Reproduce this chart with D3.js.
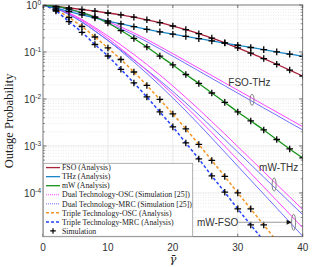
<!DOCTYPE html>
<html><head><meta charset="utf-8">
<script src="https://cdn.jsdelivr.net/npm/d3@7"></script>
<style>body{margin:0;background:#fff}svg{display:block}</style>
</head><body>
<svg id="c" width="334" height="267"></svg>
<script>
// ---- data ----
const gammaDb = [0,2,4,6,8,10,12,14,16,18,20,22,24,26,28,30,32,34,36,38,40];
const fsoAnalysis = [1,0.933,0.867,0.802,0.738,0.676,0.614,0.550,0.484,0.420,0.357,0.2985,0.245,0.197,0.157,0.1227,0.0948,0.0724,0.0548,0.0412,0.0308];
const thzAnalysis = [1,0.855,0.728,0.619,0.530,0.456,0.395,0.345,0.303,0.2685,0.239,0.214,0.192,0.1726,0.155,0.139,0.1247,0.112,0.1005,0.0902,0.081];
const mwAnalysis  = [1,0.93,0.82,0.69,0.555,0.414,0.286,0.194,0.128,0.082,0.0529,0.0332,0.0214,0.0134,0.00844,0.00529,0.0034,0.00219,0.00137,0.000863,0.000556];
const dualOscFsoThz = [1,0.929,0.822,0.6925,0.569,0.4455,0.340,0.2537,0.1845,0.1309,0.0920,0.0643,0.0450,0.0315,0.0220,0.01539,0.01076,0.00753,0.00527,0.00368,0.002575];
const dualMrcFsoThz = [1,0.9156,0.798,0.663,0.5368,0.414,0.3115,0.2299,0.1656,0.1164,0.0814,0.0566,0.0394,0.0274,0.0191,0.01329,0.00925,0.00643,0.0045,0.00313,0.00219];
const dualOscMwThz = [1,0.863,0.6757,0.4913,0.3322,0.2190,0.1409,0.0885,0.0542,0.0324,0.0189,0.01076,0.00601,0.00330,0.0018,0.000971,0.000524,0.000283,0.000152,8.22e-5,4.43e-5];
const dualMrcMwThz = [1,0.842,0.628,0.4347,0.2798,0.1757,0.1104,0.0676,0.0414,0.0247,0.01443,0.00822,0.00459,0.00251,0.00137,0.000742,0.000402,0.000217,0.0001175,6.37e-5,3.45e-5];
const dualOscMwFso = [1,0.842,0.659,0.468,0.3086,0.1948,0.1181,0.0696,0.0402,0.0228,0.01265,0.00689,0.00368,0.00193,0.00099,0.000508,0.000261,0.000134,6.89e-5,3.54e-5,1.82e-5];
const dualMrcMwFso = [1,0.842,0.628,0.4347,0.2798,0.1757,0.1050,0.0613,0.0349,0.01938,0.0105,0.00556,0.00288,0.001466,0.000738,0.000372,0.000187,9.43e-5,4.75e-5,2.39e-5,1.2e-5];
const tripleOsc = [1,0.7827,0.542,0.3488,0.2085,0.1217,0.0692,0.0375,0.01937,0.00976,0.0048,0.0023,0.001076,0.000491,0.000224,1.0e-4,4.57e-5,2.08e-5,9.5e-6,4.35e-6,1.99e-6];
const tripleMrc = [1,0.7455,0.4412,0.2625,0.1444,0.0822,0.0428,0.0219,0.01103,0.00529,0.00254,0.001158,0.000529,0.00023,0.0001035,4.57e-5,2.08e-5,9.5e-6,4.35e-6,1.99e-6,9.1e-7];
const xTicks = [0,10,20,30,40];
const yTickExps = [0,-1,-2,-3,-4];
const legendLabels = ["FSO (Analysis)","THz (Analysis)","mW (Analysis)","Dual Technology-OSC (Simulation [25])","Dual Technology-MRC (Simulation [25])","Triple Technology-OSC (Analysis)","Triple Technology-MRC (Analysis)","Simulation"];

// ---- layout ----
const m = {l:43, r:302.7, t:5, b:236.7};
const svg = d3.select("#c");
const x = d3.scaleLinear().domain([0,40]).range([m.l,m.r]);
const y = d3.scaleLog().domain([1.17e-5,1]).range([m.b,m.t]);

const C = {fso:"#a8203a", thz:"#1a87c9", mw:"#17931a", dOsc:"#ff44ff", dMrc:"#6e6eff", tOsc:"#f39522", tMrc:"#2340ff"};

svg.append("rect").attr("x",0).attr("y",0).attr("width",334).attr("height",267).attr("fill","#fff");
svg.append("rect").attr("x",m.l).attr("y",m.t).attr("width",m.r-m.l).attr("height",m.b-m.t).attr("fill","#fff");

// grid
const g = svg.append("g");
const minor = [];
for (let e=-5; e<0; e++) for (let k=2;k<10;k++){ const v=k*Math.pow(10,e); if (v>=1.17e-5 && v<1) minor.push(v); }
g.selectAll(".mg").data(minor).enter().append("line")
  .attr("x1",m.l).attr("x2",m.r).attr("y1",d=>y(d)).attr("y2",d=>y(d))
  .attr("stroke","#dcdcdc").attr("stroke-width",0.6).attr("stroke-dasharray","1,1.5");
g.selectAll(".Mg").data(yTickExps.slice(1)).enter().append("line")
  .attr("x1",m.l).attr("x2",m.r).attr("y1",d=>y(Math.pow(10,d))).attr("y2",d=>y(Math.pow(10,d)))
  .attr("stroke","#e0e0e0").attr("stroke-width",0.7);
g.selectAll(".vg").data(xTicks.slice(1,-1)).enter().append("line")
  .attr("y1",m.t).attr("y2",m.b).attr("x1",d=>x(d)).attr("x2",d=>x(d))
  .attr("stroke","#e0e0e0").attr("stroke-width",0.7);

// clip
svg.append("clipPath").attr("id","clip").append("rect")
  .attr("x",m.l).attr("y",m.t).attr("width",m.r-m.l).attr("height",m.b-m.t);
const plot = svg.append("g").attr("clip-path","url(#clip)");

const line = d3.line().x((d,i)=>x(gammaDb[i])).y(d=>y(d)).curve(d3.curveMonotoneX);

const series = [
  {v:dualOscFsoThz, c:C.dOsc, w:1, dash:null},
  {v:dualMrcFsoThz, c:C.dMrc, w:1, dash:null},
  {v:dualOscMwThz, c:C.dOsc, w:1, dash:null},
  {v:dualMrcMwThz, c:C.dMrc, w:1, dash:null},
  {v:dualOscMwFso, c:C.dOsc, w:1, dash:null},
  {v:dualMrcMwFso, c:C.dMrc, w:1, dash:null},
  {v:tripleOsc, c:C.tOsc, w:1.5, dash:"3,2.2"},
  {v:tripleMrc, c:C.tMrc, w:1.5, dash:"3,2.2"},
  {v:fsoAnalysis, c:C.fso, w:1.3, dash:null},
  {v:thzAnalysis, c:C.thz, w:1.3, dash:null},
  {v:mwAnalysis, c:C.mw, w:1.3, dash:null}
];
plot.selectAll(".curve").data(series).enter().append("path")
  .attr("d",d=>line(d.v)).attr("fill","none").attr("stroke",d=>d.c)
  .attr("stroke-width",d=>d.w).attr("stroke-dasharray",d=>d.dash);

// simulation markers
const plus = "M-3.3,0H3.3M0,-3.3V3.3";
[fsoAnalysis, thzAnalysis, mwAnalysis, tripleOsc, tripleMrc].forEach(arr=>{
  plot.selectAll(null).data(arr).enter().append("path")
    .attr("d",plus).attr("transform",(d,i)=>`translate(${x(gammaDb[i])},${y(d)})`)
    .attr("stroke","#000").attr("stroke-width",1.3).attr("fill","none");
});

// axes box and ticks
const ax = svg.append("g");
ax.append("rect").attr("x",m.l).attr("y",m.t).attr("width",m.r-m.l).attr("height",m.b-m.t)
  .attr("fill","none").attr("stroke","#555").attr("stroke-width",0.8);
xTicks.forEach(t=>{
  ax.append("line").attr("x1",x(t)).attr("x2",x(t)).attr("y1",m.b).attr("y2",m.b-3).attr("stroke","#555").attr("stroke-width",0.8);
  ax.append("line").attr("x1",x(t)).attr("x2",x(t)).attr("y1",m.t).attr("y2",m.t+3).attr("stroke","#555").attr("stroke-width",0.8);
  ax.append("text").attr("x",x(t)).attr("y",m.b+14).attr("text-anchor","middle")
    .attr("font-family","Liberation Sans, Arial, sans-serif").attr("font-size",10).attr("fill","#333").text(t);
});
yTickExps.forEach(e=>{
  const yy = y(Math.pow(10,e));
  ax.append("line").attr("x1",m.l).attr("x2",m.l+3.5).attr("y1",yy).attr("y2",yy).attr("stroke","#555").attr("stroke-width",0.8);
  ax.append("line").attr("x1",m.r).attr("x2",m.r-3.5).attr("y1",yy).attr("y2",yy).attr("stroke","#555").attr("stroke-width",0.8);
  const t = ax.append("text").attr("x",m.l-2).attr("y",yy+3.8).attr("text-anchor","end")
    .attr("font-family","Liberation Sans, Arial, sans-serif").attr("font-size",10).attr("fill","#333");
  t.append("tspan").text("10");
  t.append("tspan").attr("dy",-3.6).attr("font-size",6.5).text(e===0?"0":"-"+(-e));
});
minor.forEach(v=>{
  const yy=y(v);
  ax.append("line").attr("x1",m.l).attr("x2",m.l+2).attr("y1",yy).attr("y2",yy).attr("stroke","#555").attr("stroke-width",0.6);
  ax.append("line").attr("x1",m.r).attr("x2",m.r-2).attr("y1",yy).attr("y2",yy).attr("stroke","#555").attr("stroke-width",0.6);
});

// axis labels
svg.append("text").attr("transform",`translate(13,${(m.t+m.b)/2}) rotate(-90)`)
  .attr("text-anchor","middle").attr("font-family","Liberation Serif, Times New Roman, serif")
  .attr("font-size",12.5).attr("fill","#222").text("Outage Probability");
svg.append("text").attr("x",(m.l+m.r)/2).attr("y",263).attr("text-anchor","middle")
  .attr("font-family","DejaVu Serif, serif").attr("font-style","italic")
  .attr("font-size",11.5).attr("fill","#222").text("\u03B3\u0304");

// annotations (pair ellipses placed on the curves)
function interp(arr, gx){
  const i = Math.min(gammaDb.length-2, Math.floor(gx/2));
  const t = (gx-gammaDb[i])/(gammaDb[i+1]-gammaDb[i]);
  return Math.pow(10, Math.log10(arr[i])*(1-t)+Math.log10(arr[i+1])*t);
}
const ann = svg.append("g");
const pairs = [
  {a:dualOscFsoThz, b:dualMrcFsoThz, gx:32.2},
  {a:dualOscMwThz, b:dualMrcMwThz, gx:35.6},
  {a:dualOscMwFso, b:dualMrcMwFso, gx:38.6}
];
const ell = pairs.map(p=>{
  const y1=y(interp(p.a,p.gx)), y2=y(interp(p.b,p.gx));
  return {cx:x(p.gx), cy:(y1+y2)/2, ry:Math.abs(y2-y1)/2+4};
});
ann.selectAll("ellipse").data(ell).enter().append("ellipse")
  .attr("cx",d=>d.cx).attr("cy",d=>d.cy).attr("rx",2).attr("ry",d=>d.ry)
  .attr("fill","none").attr("stroke","#808080").attr("stroke-width",1);
const sans = "Liberation Sans, Arial, sans-serif";
ann.append("text").attr("x",x(31.8)).attr("y",y(0.0222)+3.5).attr("text-anchor","middle")
  .attr("font-family",sans).attr("font-size",10).attr("fill","#333").text("FSO-THz");
ann.append("text").attr("x",x(36.3)).attr("y",y(3.4e-4)+3.5).attr("text-anchor","middle")
  .attr("font-family",sans).attr("font-size",10).attr("fill","#333").text("mW-THz");
const mfY = ell[2].cy;
ann.append("text").attr("x",x(26.9)).attr("y",mfY+3.5).attr("text-anchor","middle")
  .attr("font-family",sans).attr("font-size",10).attr("fill","#333").text("mW-FSO");
ann.append("line").attr("x1",x(26.9)+20).attr("x2",ell[2].cx-2.5).attr("y1",mfY).attr("y2",mfY)
  .attr("stroke","#999").attr("stroke-width",1.2);
ann.append("path").attr("d",`M${ell[2].cx-2},${mfY}l-5,-2.5v5z`).attr("fill","#111");

// legend
const lg = svg.append("g");
lg.append("rect").attr("x",m.l+0.4).attr("y",163.3).attr("width",149.3).attr("height",m.b-163.3-0.4)
  .attr("fill","#fff").attr("stroke","#9a9a9a").attr("stroke-width",0.8);
const legStyles = [
  {c:C.fso, dash:null, w:1.3},
  {c:C.thz, dash:null, w:1.3},
  {c:C.mw, dash:null, w:1.3},
  {c:C.dOsc, dash:"1,1", w:1},
  {c:C.dMrc, dash:"1,1", w:1},
  {c:C.tOsc, dash:"3,2", w:1.5},
  {c:C.tMrc, dash:"3,2", w:1.5},
  {c:null}
];
legendLabels.forEach((lab,i)=>{
  const yy = 167.6 + i*9.05;
  const s = legStyles[i];
  if (s.c) lg.append("line").attr("x1",46).attr("x2",60).attr("y1",yy).attr("y2",yy)
    .attr("stroke",s.c).attr("stroke-width",s.w).attr("stroke-dasharray",s.dash);
  else lg.append("path").attr("d","M-2.8,0H2.8M0,-2.8V2.8").attr("transform",`translate(53,${yy})`)
    .attr("stroke","#000").attr("stroke-width",1.2);
  lg.append("text").attr("x",62).attr("y",yy+2.7).attr("font-family","Liberation Serif, Times New Roman, serif")
    .attr("font-size",7.8).attr("fill","#222").text(lab);
});
</script>
</body></html>
